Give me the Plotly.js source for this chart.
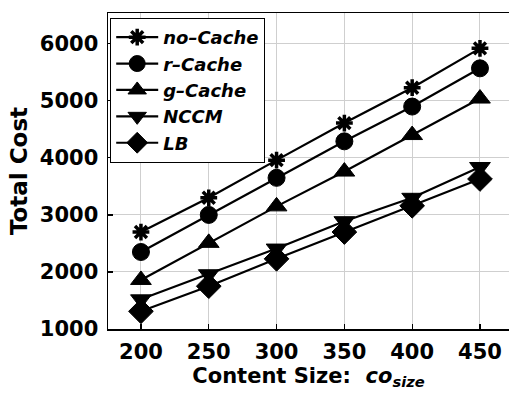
<!DOCTYPE html>
<html>
<head>
<meta charset="utf-8">
<script src="https://cdn.plot.ly/plotly-3.0.1.min.js"></script>
<style>
  html, body { margin: 0; padding: 0; background: #fff; }
  #chart { width: 509px; height: 400px; }
</style>
</head>
<body>
<div id="chart"></div>
<script>
// Content size (x) and total cost per caching scheme
const contentSize = [200, 250, 300, 350, 400, 450];
const costTicks = [1000, 2000, 3000, 4000, 5000, 6000];
const noCache = [2700, 3300, 3960, 4610, 5230, 5920];
const rCache  = [2350, 3000, 3650, 4290, 4900, 5570];
const gCache  = [1860, 2510, 3150, 3760, 4400, 5040];
const nccm    = [1520, 1960, 2410, 2890, 3300, 3840];
const lb      = [1310, 1750, 2230, 2700, 3160, 3630];

const seriesNames = ['no–Cache', 'r–Cache', 'g–Cache', 'NCCM', 'LB'];
const seriesData = [noCache, rCache, gCache, nccm, lb];
const symbols = ['asterisk-open', 'circle', 'triangle-up', 'triangle-down', 'diamond'];
const sizes = [14, 17, 18, 18, 19];

const FONT = 'DejaVu Sans, Liberation Sans, Arial, sans-serif';

const traces = seriesData.map((vals, i) => ({
  x: contentSize,
  y: vals,
  name: seriesNames[i],
  type: 'scatter',
  mode: 'lines+markers',
  line: { color: '#000', width: 2.2 },
  marker: {
    symbol: symbols[i],
    size: sizes[i],
    color: '#000',
    line: { color: '#000', width: i === 0 ? 3.5 : 1 }
  }
}));

// light grid at every tick position
const axisCommon = {
  showline: true,
  linecolor: '#000',
  linewidth: 1.5,
  ticks: 'inside',
  ticklen: 5,
  tickwidth: 1.2,
  tickcolor: '#000',
  showgrid: true,
  gridcolor: '#cfcfcf',
  gridwidth: 1,
  zeroline: false,
  tickfont: { family: FONT, size: 21, color: '#000', weight: 700 }
};

const layout = {
  width: 509,
  height: 400,
  margin: { l: 108, r: 0, t: 13, b: 71 },
  paper_bgcolor: '#fff',
  plot_bgcolor: '#fff',
  showlegend: true,
  legend: {
    x: 0.005, y: 0.985, xanchor: 'left', yanchor: 'top',
    bgcolor: '#fff', bordercolor: '#000', borderwidth: 1.2,
    itemwidth: 42,
    font: { family: FONT, size: 18, color: '#000', weight: 700, style: 'italic' }
  },
  xaxis: Object.assign({}, axisCommon, {
    range: [175.7, 471.4],
    tickvals: contentSize,
    mirror: true,
    ticklabelstandoff: 3,
    title: {
      text: 'Content Size:  <i>co</i><sub><i>size</i></sub>',
      font: { family: FONT, size: 21, color: '#000', weight: 700 },
      standoff: 0
    }
  }),
  yaxis: Object.assign({}, axisCommon, {
    range: [1000, 6540],
    tickvals: costTicks,
    mirror: false,
    ticklabelstandoff: 4,
    title: {
      text: 'Total Cost',
      font: { family: FONT, size: 23, color: '#000', weight: 700 },
      standoff: 6
    }
  })
};

Plotly.newPlot('chart', traces, layout, { staticPlot: true, displayModeBar: false });
</script>
</body>
</html>
